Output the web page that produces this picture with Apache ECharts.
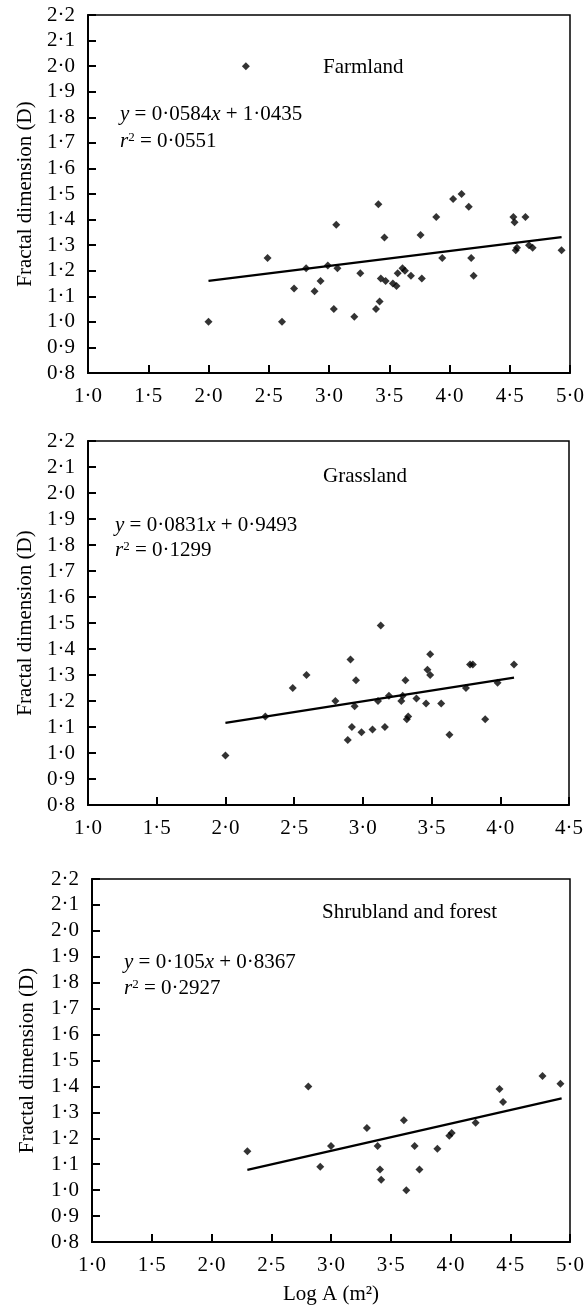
<!DOCTYPE html>
<html>
<head>
<meta charset="utf-8">
<script src="https://cdn.jsdelivr.net/npm/echarts@6/dist/echarts.min.js"></script>
<style>
  html, body { margin: 0; padding: 0; background: #fff; }
  #chart { width: 587px; height: 1309px; }
</style>
</head>
<body>
<div id="chart"></div>
<script>
// ---- Data ----
const farmX = [2.00, 2.31, 2.49, 2.61, 2.71, 2.81, 2.88, 2.93, 2.99, 3.04, 3.06, 3.07, 3.21, 3.26, 3.39, 3.41, 3.42, 3.43, 3.46, 3.47, 3.53, 3.56, 3.57, 3.61, 3.63, 3.68, 3.76, 3.77, 3.89, 3.94, 4.03, 4.10, 4.16, 4.18, 4.20, 4.53, 4.54, 4.55, 4.56, 4.63, 4.66, 4.69, 4.93];
const farmY = [1.00, 2.00, 1.25, 1.00, 1.13, 1.21, 1.12, 1.16, 1.22, 1.05, 1.38, 1.21, 1.02, 1.19, 1.05, 1.46, 1.08, 1.17, 1.33, 1.16, 1.15, 1.14, 1.19, 1.21, 1.20, 1.18, 1.34, 1.17, 1.41, 1.25, 1.48, 1.50, 1.45, 1.25, 1.18, 1.41, 1.39, 1.28, 1.29, 1.41, 1.30, 1.29, 1.28];
const farmFitX = [2.00, 4.93];
const farmFitY = [1.160, 1.331];

const grassX = [2.00, 2.29, 2.49, 2.59, 2.80, 2.89, 2.91, 2.92, 2.94, 2.95, 2.99, 3.07, 3.11, 3.13, 3.16, 3.19, 3.28, 3.29, 3.31, 3.32, 3.33, 3.39, 3.46, 3.47, 3.49, 3.49, 3.57, 3.63, 3.75, 3.78, 3.80, 3.89, 3.98, 4.10];
const grassY = [0.99, 1.14, 1.25, 1.30, 1.20, 1.05, 1.36, 1.10, 1.18, 1.28, 1.08, 1.09, 1.20, 1.49, 1.10, 1.22, 1.20, 1.22, 1.28, 1.13, 1.14, 1.21, 1.19, 1.32, 1.30, 1.38, 1.19, 1.07, 1.25, 1.34, 1.34, 1.13, 1.27, 1.34];
const grassFitX = [2.00, 4.10];
const grassFitY = [1.116, 1.290];

const shrubX = [2.30, 2.81, 2.91, 3.00, 3.30, 3.39, 3.41, 3.42, 3.61, 3.63, 3.70, 3.74, 3.89, 3.99, 4.01, 4.21, 4.41, 4.44, 4.77, 4.92];
const shrubY = [1.15, 1.40, 1.09, 1.17, 1.24, 1.17, 1.08, 1.04, 1.27, 1.00, 1.17, 1.08, 1.16, 1.21, 1.22, 1.26, 1.39, 1.34, 1.44, 1.41];
const shrubFitX = [2.30, 4.93];
const shrubFitY = [1.078, 1.354];

const panelTitles = ['Farmland', 'Grassland', 'Shrubland and forest'];
const panelEq = ['{i|y} = 0·0584{i|x} + 1·0435', '{i|y} = 0·0831{i|x} + 0·9493', '{i|y} = 0·105{i|x} + 0·8367'];
const panelR2 = ['{i|r}{s|2} = 0·0551', '{i|r}{s|2} = 0·1299', '{i|r}{s|2} = 0·2927'];
const xMaxes = [5.0, 4.5, 5.0];
const yAxisName = 'Fractal dimension (D)';
const xAxisName = 'Log A (m²)';

// ---- Build chart ----
const FONT = '"Liberation Serif", "Times New Roman", serif';
const fmt = v => v.toFixed(1).replace('.', '·');
const zip = (xs, ys) => xs.map((x, i) => [x, ys[i]]);

const grids = [
  { left: 88, top: 15, width: 482, height: 358 },
  { left: 88, top: 441, width: 481, height: 364 },
  { left: 92, top: 879, width: 481, height: 363 }
].map(g => Object.assign(g, { show: true, borderColor: '#000', borderWidth: 1.5, backgroundColor: 'transparent' }));

const xAxes = xMaxes.map((mx, i) => ({
  type: 'value', gridIndex: i, min: 1.0, max: mx, interval: 0.5,
  axisLine: { show: true, onZero: false, lineStyle: { color: '#000', width: 2 } },
  axisTick: { show: true, inside: true, length: 8, lineStyle: { color: '#000', width: 2 } },
  axisLabel: { margin: 13, fontSize: 21, fontFamily: FONT, color: '#000', formatter: fmt },
  splitLine: { show: false },
  name: i === 2 ? xAxisName : '',
  nameLocation: 'middle', nameGap: 42,
  nameTextStyle: { fontSize: 21, fontFamily: FONT, color: '#000' }
}));

const yAxes = [0, 1, 2].map(i => ({
  type: 'value', gridIndex: i, min: 0.8, max: 2.2, interval: 0.1,
  axisLine: { show: true, onZero: false, lineStyle: { color: '#000', width: 2 } },
  axisTick: { show: true, inside: true, length: 8, lineStyle: { color: '#000', width: 2 } },
  axisLabel: { margin: 13, fontSize: 21, fontFamily: FONT, color: '#000', formatter: fmt },
  splitLine: { show: false },
  name: yAxisName, nameLocation: 'middle', nameGap: i === 2 ? 54 : 50,
  nameTextStyle: { fontSize: 21, fontFamily: FONT, color: '#000' }
}));

const sets = [[farmX, farmY, farmFitX, farmFitY], [grassX, grassY, grassFitX, grassFitY], [shrubX, shrubY, shrubFitX, shrubFitY]];
const series = [];
sets.forEach((s, i) => {
  series.push({
    type: 'scatter', xAxisIndex: i, yAxisIndex: i, data: zip(s[0], s[1]),
    symbol: 'diamond', symbolSize: 8, itemStyle: { color: '#000' }, z: 3
  });
  series.push({
    type: 'line', xAxisIndex: i, yAxisIndex: i, data: zip(s[2], s[3]),
    symbol: 'none', lineStyle: { color: '#000', width: 2.2 }, z: 2
  });
});

const textPos = [
  { title: [323, 57], eq: [120, 104], r2: [120, 131] },
  { title: [323, 466], eq: [115, 515], r2: [115, 540] },
  { title: [322, 902], eq: [124, 952], r2: [124, 978] }
];
const graphic = [];
textPos.forEach((p, i) => {
  const base = {
    fontSize: 21, fontFamily: FONT, fill: '#000',
    rich: {
      i: { fontStyle: 'italic', fontSize: 21, fontFamily: FONT },
      s: { fontSize: 13, fontFamily: FONT, verticalAlign: 'top', padding: [0, 0, 8, 0] }
    }
  };
  graphic.push({ type: 'text', left: p.title[0], top: p.title[1], style: Object.assign({ text: panelTitles[i] }, base) });
  graphic.push({ type: 'text', left: p.eq[0], top: p.eq[1], style: Object.assign({ text: panelEq[i] }, base) });
  graphic.push({ type: 'text', left: p.r2[0], top: p.r2[1], style: Object.assign({ text: panelR2[i] }, base) });
});

const chart = echarts.init(document.getElementById('chart'), null, { renderer: 'canvas' });
chart.setOption({
  backgroundColor: '#fff',
  animation: false,
  grid: grids,
  xAxis: xAxes,
  yAxis: yAxes,
  series: series,
  graphic: graphic
});
</script>
</body>
</html>
